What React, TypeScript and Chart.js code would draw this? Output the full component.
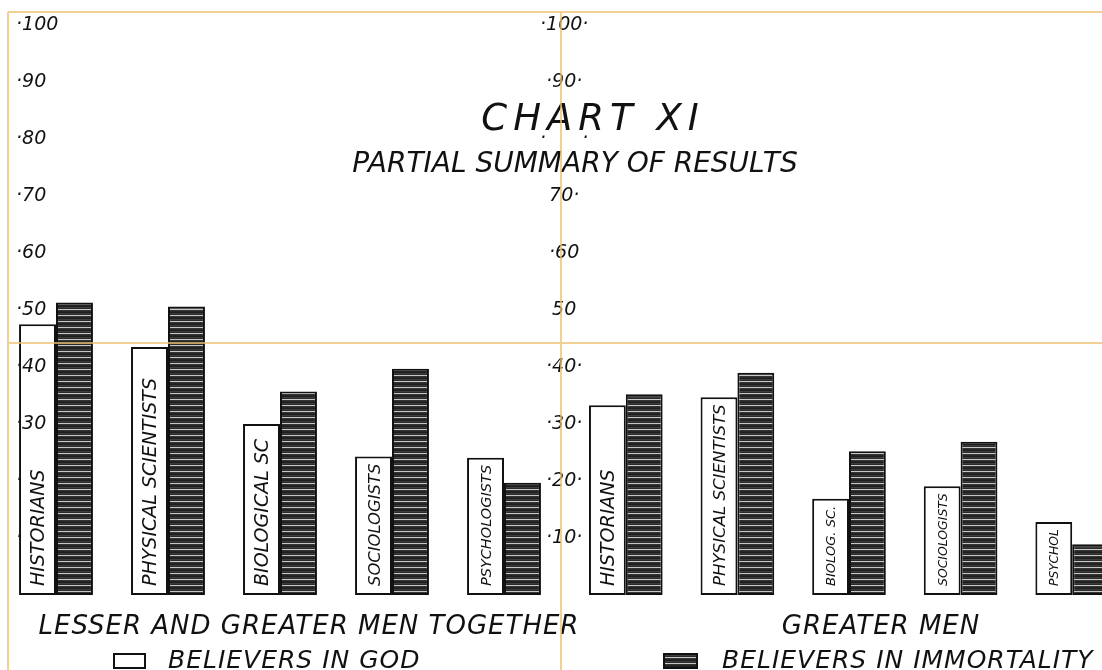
import React, { useEffect, useRef } from 'react';
import { Chart, registerables } from 'chart.js';

Chart.register(...registerables);

// ---------- data ----------
const categoriesLeft = ['HISTORIANS', 'PHYSICAL SCIENTISTS', 'BIOLOGICAL SC', 'SOCIOLOGISTS', 'PSYCHOLOGISTS'];
const godLeft = [47.5, 43.5, 30.0, 24.3, 24.1];
const immortalityLeft = [51.3, 50.6, 35.7, 39.7, 19.7];

const categoriesRight = ['HISTORIANS', 'PHYSICAL SCIENTISTS', 'BIOLOG. SC.', 'SOCIOLOGISTS', 'PSYCHOL'];
const godRight = [33.3, 34.7, 16.9, 19.1, 12.8];
const immortalityRight = [35.2, 39.0, 25.2, 26.9, 8.9];

// tick labels for 0,10,...,100
const leftTickLabels = ['', '·', '·', '·30', '·40', '·50', '·60', '·70', '·80', '·90', '·100'];
const rightTickLabels = ['', '·10·', '·20·', '·30·', '·40·', '50', '·60', '70·', '·      ·', '·90·', '·100·'];

const seriesNames = ['BELIEVERS IN GOD', 'BELIEVERS IN IMMORTALITY'];
const panelTitles = ['LESSER AND GREATER MEN TOGETHER', 'GREATER MEN'];
const chartTitle = 'CHART XI';
const chartSubtitle = 'PARTIAL SUMMARY OF RESULTS';

// ---------- style ----------
const FAMILY = '"DejaVu Sans", "Liberation Sans", sans-serif';
const INK = '#111111';
const GUIDE = 'rgba(236, 192, 112, 0.75)';

function makeHatch(): CanvasPattern | string {
  const c = document.createElement('canvas');
  c.width = 8;
  c.height = 6;
  const g = c.getContext('2d');
  if (!g) return '#444';
  const rows = ['#1e1e1e', '#3c3c3c', '#2a2a2a', '#c8c8c8', '#343434', '#262626'];
  rows.forEach((col, i) => {
    g.fillStyle = col;
    g.fillRect(0, i, 8, 1);
  });
  return g.createPattern(c, 'repeat') || '#444';
}

function barLabelPlugin(labels: string[]) {
  return {
    id: 'barLabels',
    afterDatasetsDraw(chart: any) {
      const ctx = chart.ctx as CanvasRenderingContext2D;
      const meta = chart.getDatasetMeta(0);
      meta.data.forEach((bar: any, i: number) => {
        const { x, y, base } = bar.getProps(['x', 'y', 'base'], true);
        const text = labels[i];
        const avail = base - y - 16;
        let size = 19;
        ctx.font = `italic ${size}px ${FAMILY}`;
        const w = ctx.measureText(text).width;
        if (w > avail) size = (size * avail) / w;
        ctx.save();
        ctx.font = `italic ${size}px ${FAMILY}`;
        ctx.fillStyle = INK;
        ctx.textAlign = 'left';
        ctx.textBaseline = 'alphabetic';
        ctx.translate(x, base - 9);
        ctx.rotate(-Math.PI / 2);
        ctx.fillText(text, 0, size * 0.365);
        ctx.restore();
      });
    },
  };
}

type Decor = {
  panelTitle: string;
  panelX: number;
  legendText: string;
  legendBoxX: number;
  legendBoxW: number;
  legendTextX: number;
  legendFill: CanvasPattern | string;
  drawTitle: boolean;
  drawGuides: boolean;
};

function decorPlugin(d: Decor) {
  return {
    id: 'decor',
    afterDraw(chart: any) {
      const ctx = chart.ctx as CanvasRenderingContext2D;
      const a = chart.chartArea;
      ctx.save();
      ctx.fillStyle = INK;
      // panel label
      ctx.font = `italic 26px ${FAMILY}`;
      (ctx as any).letterSpacing = '1px';
      ctx.textAlign = 'center';
      ctx.textBaseline = 'alphabetic';
      ctx.fillText(d.panelTitle, a.left + d.panelX, a.bottom + 39);
      // legend
      ctx.fillStyle = d.legendFill as any;
      ctx.fillRect(a.left + d.legendBoxX, a.bottom + 59, d.legendBoxW, 14);
      ctx.strokeStyle = INK;
      ctx.lineWidth = 2;
      ctx.strokeRect(a.left + d.legendBoxX, a.bottom + 59, d.legendBoxW, 14);
      ctx.fillStyle = INK;
      ctx.font = `italic 25px ${FAMILY}`;
      ctx.textAlign = 'left';
      ctx.fillText(d.legendText, a.left + d.legendTextX, a.bottom + 73);
      if (d.drawTitle) {
        ctx.textAlign = 'center';
        ctx.font = `italic 37px ${FAMILY}`;
        (ctx as any).letterSpacing = '6px';
        ctx.fillText(chartTitle, a.left + 23, 130);
        ctx.font = `italic 28px ${FAMILY}`;
        (ctx as any).letterSpacing = '0px';
        ctx.fillText(chartSubtitle, a.left + 5, 172);
      }
      (ctx as any).letterSpacing = '0px';
      if (d.drawGuides) {
        ctx.strokeStyle = GUIDE;
        ctx.lineWidth = 2;
        ctx.beginPath();
        ctx.moveTo(8, 12); ctx.lineTo(1140, 12);
        ctx.moveTo(8, 343); ctx.lineTo(1140, 343);
        ctx.moveTo(8, 12); ctx.lineTo(8, 670);
        ctx.moveTo(561, 12); ctx.lineTo(561, 670);
        ctx.stroke();
      }
      ctx.restore();
    },
  };
}

function yAxis(labels: string[], crossAlign: string, padding: number) {
  return {
    min: 0,
    max: 100,
    position: 'left',
    grid: { display: false, drawTicks: false },
    border: { display: false },
    ticks: {
      z: 1,
      stepSize: 10,
      mirror: true,
      crossAlign,
      padding,
      color: INK,
      autoSkip: false,
      font: { family: FAMILY, size: 19, style: 'italic' },
      callback: (v: any) => labels[Math.round(Number(v) / 10)] ?? '',
    },
    afterFit: (s: any) => {
      s.width = 0;
      s.paddingTop = 0;
      s.paddingBottom = 0;
    },
  };
}

function makeChart(
  canvas: HTMLCanvasElement,
  cats: string[],
  god: number[],
  imm: number[],
  yScale: any,
  padding: { left: number; right: number; top: number; bottom: number },
  hatch: CanvasPattern | string,
  decor: Decor
) {
  return new Chart(canvas, {
    type: 'bar',
    data: {
      labels: cats,
      datasets: [
        { label: seriesNames[0], data: god, backgroundColor: '#ffffff', borderColor: INK, borderWidth: 2, borderSkipped: false },
        { label: seriesNames[1], data: imm, backgroundColor: hatch as any, borderColor: INK, borderWidth: 2, borderSkipped: false },
      ],
    },
    options: {
      responsive: false,
      animation: false,
      devicePixelRatio: 1,
      layout: { padding },
      datasets: { bar: { categoryPercentage: 0.66, barPercentage: 1 } },
      plugins: { legend: { display: false }, title: { display: false }, tooltip: { enabled: false } },
      scales: {
        x: { display: false },
        y: yScale,
      },
    } as any,
    plugins: [barLabelPlugin(cats), decorPlugin(decor)],
  });
}

export default function App() {
  const leftRef = useRef<HTMLCanvasElement>(null);
  const rightRef = useRef<HTMLCanvasElement>(null);

  useEffect(() => {
    if (!leftRef.current || !rightRef.current) return;
    const hatch = makeHatch();
    const left = makeChart(
      leftRef.current, categoriesLeft, godLeft, immortalityLeft,
      yAxis(leftTickLabels, 'near', 16),
      { left: 0, right: 580, top: 25, bottom: 75 }, hatch,
      { panelTitle: panelTitles[0], panelX: 309, legendText: seriesNames[0], legendBoxX: 114, legendBoxW: 31, legendTextX: 168, legendFill: '#ffffff', drawTitle: false, drawGuides: false }
    );
    const right = makeChart(
      rightRef.current, categoriesRight, godRight, immortalityRight,
      yAxis(rightTickLabels, 'center', -30),
      { left: 570, right: 12, top: 25, bottom: 75 }, hatch,
      { panelTitle: panelTitles[1], panelX: 311, legendText: seriesNames[1], legendBoxX: 94, legendBoxW: 33, legendTextX: 152, legendFill: hatch, drawTitle: true, drawGuides: true }
    );
    return () => {
      left.destroy();
      right.destroy();
    };
  }, []);

  return (
    <div style={{ position: 'absolute', left: 0, top: 0, width: 1102, height: 670, overflow: 'hidden', background: '#ffffff' }}>
      <canvas ref={leftRef} width={1140} height={670} style={{ position: 'absolute', left: 0, top: 0 }} />
      <canvas ref={rightRef} width={1140} height={670} style={{ position: 'absolute', left: 0, top: 0 }} />
    </div>
  );
}
